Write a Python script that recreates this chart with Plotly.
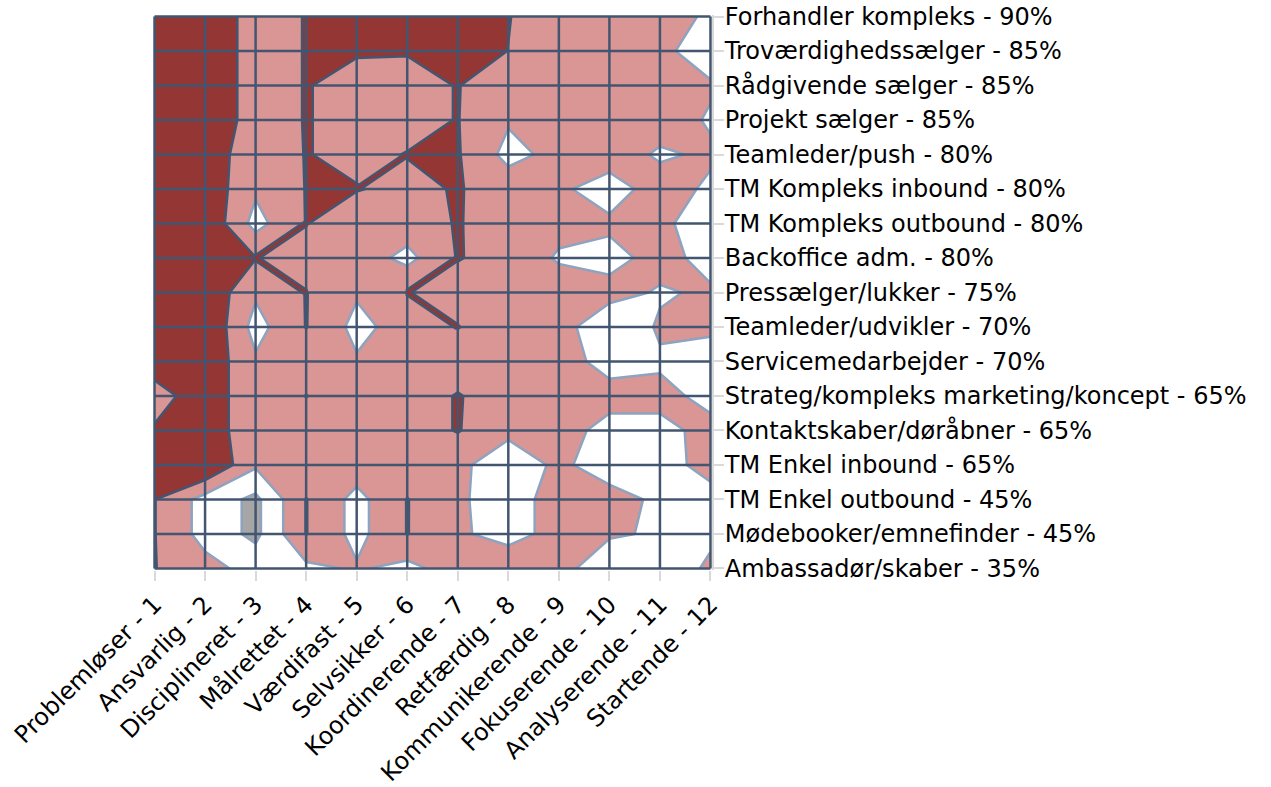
import plotly.graph_objects as go

# rows, top to bottom
roles = [
    "Forhandler kompleks - 90%",
    "Troværdighedssælger - 85%",
    "Rådgivende sælger - 85%",
    "Projekt sælger - 85%",
    "Teamleder/push - 80%",
    "TM Kompleks inbound - 80%",
    "TM Kompleks outbound - 80%",
    "Backoffice adm. - 80%",
    "Pressælger/lukker - 75%",
    "Teamleder/udvikler - 70%",
    "Servicemedarbejder - 70%",
    "Strateg/kompleks marketing/koncept - 65%",
    "Kontaktskaber/døråbner - 65%",
    "TM Enkel inbound - 65%",
    "TM Enkel outbound - 45%",
    "Mødebooker/emnefinder - 45%",
    "Ambassadør/skaber - 35%",
]

traits = [
    "Problemløser - 1", "Ansvarlig - 2", "Disciplineret - 3", "Målrettet - 4",
    "Værdifast - 5", "Selvsikker - 6", "Koordinerende - 7", "Retfærdig - 8",
    "Kommunikerende - 9", "Fokuserende - 10", "Analyserende - 11", "Startende - 12",
]

# one list per trait (column), values per role from top to bottom
problemloser   = [3.6, 3.6, 3.6, 3.6, 3.6, 3.6, 3.6, 3.6, 3.6, 3.6, 3.5, 2.59, 3.10, 3.6, 3.03, 3.03, 3.03]
ansvarlig      = [3.6, 3.6, 3.6, 3.6, 3.5, 3.7, 3.87, 3.6, 3.82, 4.0, 3.76, 3.54, 3.6, 4.07, 1.63, 1.63, 2.36]
disciplineret  = [2.66, 2.66, 2.66, 2.66, 2.48, 2.15, 1.65, 3.03, 2.14, 1.62, 2.14, 2.39, 2.32, 2.14, 0.76, 0.76, 1.62]
malrettet      = [3.03, 3.03, 3.03, 3.03, 3.03, 3.03, 3.03, 2.5, 3.03, 3.03, 2.5, 3.02, 2.5, 2.5, 3.03, 3.03, 1.76]
vaerdifast     = [3.5, 3.05, 2.8, 2.8, 2.8, 3.04, 2.5, 2.56, 2.11, 1.7, 2.1, 2.5, 2.5, 2.56, 1.67, 1.67, 2.1]
selvsikker     = [3.5, 3.05, 2.72, 2.72, 3.03, 2.8, 2.56, 1.7, 3.03, 2.45, 2.5, 2.5, 2.5, 2.5, 3.03, 3.03, 1.69]
koordinerende  = [3.5, 3.4, 3.03, 3.03, 3.08, 3.06, 3.06, 3.06, 2.5, 3.03, 2.5, 3.06, 3.06, 2.19, 2.15, 2.1, 2.5]
retfaerdig     = [3.03, 2.99, 2.5, 2.1, 1.69, 2.58, 2.5, 2.57, 2.5, 2.5, 2.5, 2.5, 2.19, 1.5, 1.5, 1.75, 2.5]
kommunikerende = [2.5, 2.5, 2.5, 2.5, 2.3, 2.18, 2.26, 1.9, 2.49, 2.42, 2.6, 2.5, 2.59, 2.16, 2.46, 2.23, 2.32]
fokuserende    = [2.5, 2.5, 2.5, 2.5, 2.54, 1.5, 2.19, 1.67, 2.35, 1.22, 1.5, 2.5, 1.52, 1.6, 2.3, 2.1, 1.4]
analyserende   = [2.5, 2.25, 2.5, 2.5, 1.85, 2.5, 2.2, 2.35, 1.9, 2.12, 1.88, 2.23, 1.78, 1.5, 1.85, 1.9, 1.25]
startende      = [1.82, 1.44, 2.12, 1.89, 2.16, 1.81, 1.5, 1.66, 2.13, 2.3, 1.23, 1.77, 2.23, 2.44, 1.54, 1.78, 2.2]

columns = [problemloser, ansvarlig, disciplineret, malrettet, vaerdifast, selvsikker,
           koordinerende, retfaerdig, kommunikerende, fokuserende, analyserende, startende]

z = [list(row) for row in zip(*columns)]
z_neg = [[-v for v in row] for row in z]
xs = list(range(len(traits)))
ys = list(range(len(roles)))

dark = "#435671"
light = "#8DA3BF"
red = "#943634"
white_alpha = 0.42
gray_base = "rgb(102,102,102)"
font = dict(family="Verdana, DejaVu Sans, sans-serif", size=24, color="#000000")

fig = go.Figure()

# bands (band colours sit at 0, 1/3, 2/3, 1 of the scale)
fig.add_trace(go.Contour(
    x=xs, y=ys, z=z, autocontour=False,
    contours=dict(start=1, end=3, size=1, coloring="fill", showlines=False),
    colorscale=[[0, gray_base], [0.17, gray_base], [0.17, "#FFFFFF"], [0.5, "#FFFFFF"],
                [0.5, "#D99694"], [0.83, "#D99694"], [0.83, red], [1, red]],
    line=dict(width=0, smoothing=0), showscale=False, hoverinfo="skip"))

# wireframe
gx, gy = [], []
for i in xs:
    gx += [i, i, None]
    gy += [ys[0], ys[-1], None]
for j in ys:
    gx += [xs[0], xs[-1], None]
    gy += [j, j, None]
fig.add_trace(go.Scatter(x=gx, y=gy, mode="lines", line=dict(color=dark, width=2.5),
                         hoverinfo="skip", showlegend=False))

# lighten wireframe in the low bands
fig.add_trace(go.Contour(
    x=xs, y=ys, z=z_neg, autocontour=False,
    contours=dict(start=-2, end=-2, size=1, coloring="fill", showlines=False),
    colorscale=[[0, "rgba(255,255,255,0)"], [0.5, "rgba(255,255,255,0)"],
                [0.5, "rgba(255,255,255,%s)" % white_alpha], [1, "rgba(255,255,255,%s)" % white_alpha]],
    line=dict(width=0, smoothing=0), showscale=False, hoverinfo="skip"))

# band borders
fig.add_trace(go.Contour(
    x=xs, y=ys, z=z, autocontour=False,
    contours=dict(start=1, end=2, size=1, coloring="none"),
    line=dict(color=light, width=2.5, smoothing=0), showscale=False, hoverinfo="skip"))
fig.add_trace(go.Contour(
    x=xs, y=ys, z=z, autocontour=False,
    contours=dict(start=3, end=3, size=1, coloring="none"),
    line=dict(color=dark, width=2.5, smoothing=0), showscale=False, hoverinfo="skip"))

# thin diagonal ridges where two opposite corners sit right on the top border
def on_ridge(v):
    return 3 <= v < 3.1

rx, ry = [], []
for j in range(len(ys) - 1):
    for i in range(len(xs) - 1):
        a, b = z[j][i], z[j][i + 1]
        c, d = z[j + 1][i], z[j + 1][i + 1]
        if on_ridge(b) and on_ridge(c) and a < 3 and d < 3:
            rx += [xs[i + 1], xs[i], None]
            ry += [ys[j], ys[j + 1], None]
        if on_ridge(a) and on_ridge(d) and b < 3 and c < 3:
            rx += [xs[i], xs[i + 1], None]
            ry += [ys[j], ys[j + 1], None]
fig.add_trace(go.Scatter(x=rx, y=ry, mode="lines", line=dict(color=dark, width=7),
                         hoverinfo="skip", showlegend=False))
fig.add_trace(go.Scatter(x=rx, y=ry, mode="lines", line=dict(color=red, width=2.5),
                         hoverinfo="skip", showlegend=False))

fig.update_layout(
    width=1271, height=787,
    margin=dict(l=153, r=559, t=15, b=217),
    paper_bgcolor="white", plot_bgcolor="white",
    font=font, showlegend=False,
    xaxis=dict(tickvals=xs, ticktext=traits, tickangle=-45, range=[-0.03, 11.03],
               ticks="outside", ticklen=10, tickwidth=2, tickcolor="#D9D9D9",
               showgrid=False, zeroline=False, showline=False, tickfont=font,
               automargin=False, ticklabeloverflow="allow"),
    yaxis=dict(tickvals=ys, ticktext=roles, side="right", range=[16.045, -0.045],
               ticks="outside", ticklen=10, tickwidth=2, tickcolor="#D9D9D9",
               showline=True, linecolor="#D9D9D9", linewidth=2, ticklabelstandoff=-4,
               showgrid=False, zeroline=False, tickfont=font, automargin=False,
               ticklabeloverflow="allow"),
)

fig.write_html("out.html", config={"displayModeBar": False},
               post_script="document.body.style.margin='0px';")
